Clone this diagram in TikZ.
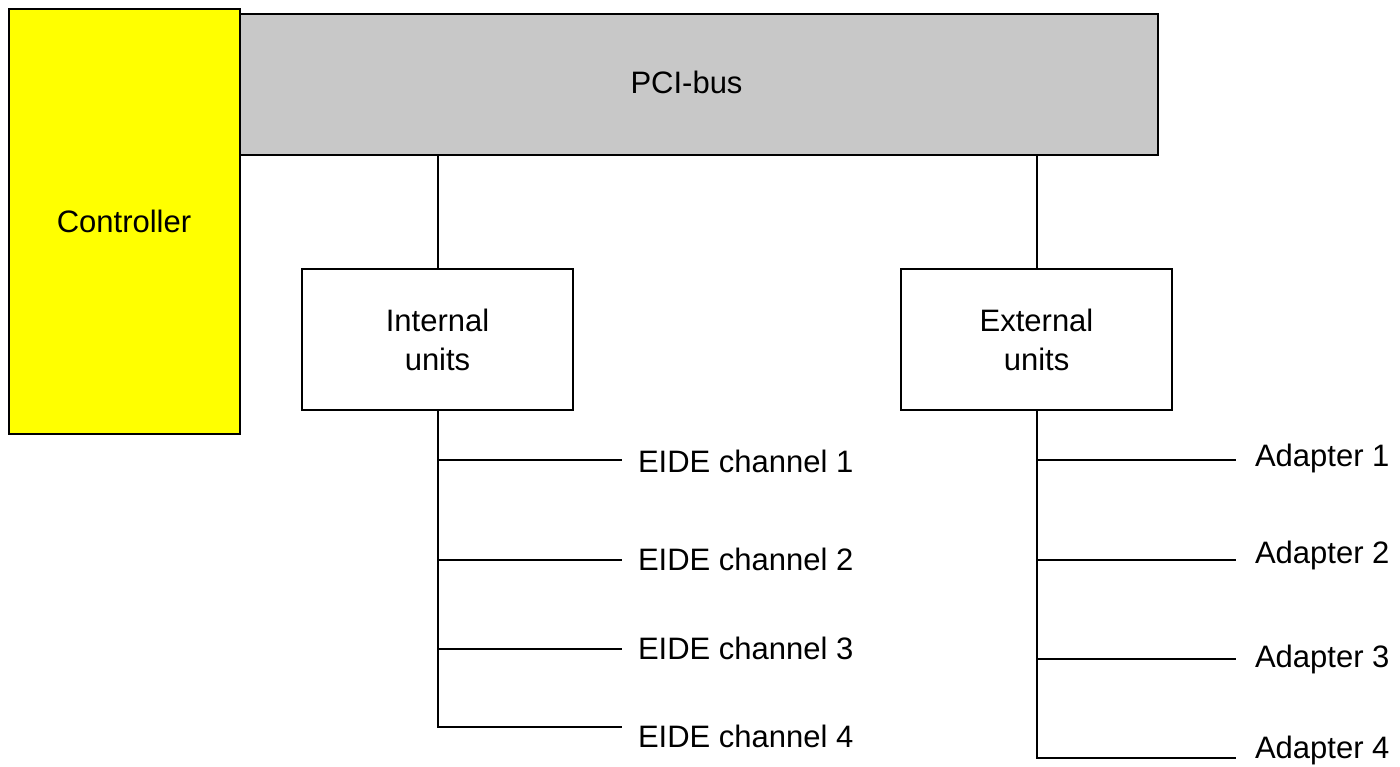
\documentclass[tikz,border=0pt]{standalone}
\usepackage{fontspec}
\setmainfont{Liberation Sans}
\definecolor{busgray}{RGB}{200,200,200}
\definecolor{ctrlyellow}{RGB}{255,255,0}
\begin{document}
\begin{tikzpicture}[x=0.5pt,y=-0.5pt,line width=1pt,
  box/.style={draw=black,rectangle,inner sep=0pt,align=center,font=\fontsize{15.5pt}{19.5pt}\selectfont},
  leaf/.style={anchor=base west,inner sep=0pt,font=\fontsize{15.5pt}{19.5pt}\selectfont}]

\useasboundingbox (0,0) rectangle (1400,766);

%PCI-bus and controller
\node[box,fill=busgray,minimum width=459pt,minimum height=70.5pt] (bus) at (699,84.5) {};
\node[leaf,anchor=base] (buslabel) at (686.5,93) {PCI-bus};
\node[box,fill=ctrlyellow,minimum width=115.5pt,minimum height=212.5pt] (ctrl) at (124,221.5) {Controller};

%units
\node[box,minimum width=135.5pt,minimum height=70.5pt] (int) at (437.5,339.5) {Internal\\units};
\node[box,minimum width=135.5pt,minimum height=70.5pt] (ext) at (1036.5,339.5) {External\\units};

\draw (int.north) -- (int.north |- bus.south);
\draw (ext.north) -- (ext.north |- bus.south);

%internal -> EIDE channels
\foreach \i/\ly/\ty in {1/460/472,2/560/570,3/649/659,4/727/747}{
  \coordinate (e\i) at (622,\ly);
  \node[leaf] (ch\i) at (637,\ty) {EIDE channel \i};
}
\draw (int.south) |- (e4);
\foreach \i in {1,2,3} \draw (int.south |- e\i) -- (e\i);

%external -> adapters
\foreach \i/\ly/\ty in {1/460/466,2/560/563,3/659/667,4/758/758}{
  \coordinate (a\i) at (1236,\ly);
  \node[leaf] (ad\i) at (1254,\ty) {Adapter \i};
}
\draw (ext.south) |- (a4);
\foreach \i in {1,2,3} \draw (ext.south |- a\i) -- (a\i);

\end{tikzpicture}
\end{document}
